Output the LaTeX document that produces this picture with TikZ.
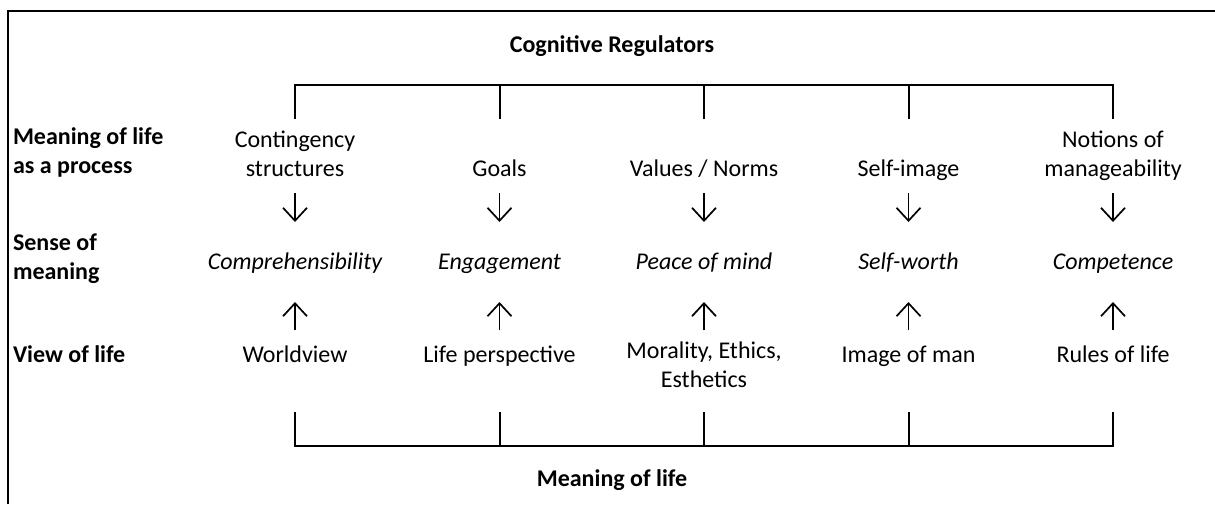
\documentclass[tikz,border=0pt]{standalone}
\usepackage{fontspec}
\setmainfont{Carlito}
\usetikzlibrary{arrows.meta,positioning,calc}

\begin{document}
\begin{tikzpicture}[
    x=0.5pt, y=-0.5pt,
    txt/.style={inner sep=0pt, outer sep=0pt, align=center,
        font=\fontsize{12}{14.5}\selectfont,
        execute at begin node=\strut, execute at end node=\strut},
    rowlabel/.style={txt, align=left, font=\fontsize{12}{14.5}\selectfont\bfseries},
    heading/.style={txt, font=\fontsize{12}{14.5}\selectfont\bfseries},
    sense/.style={txt, font=\fontsize{12}{14.5}\selectfont\itshape},
    bracket/.style={line width=1pt},
    frame/.style={line width=1pt},
    down/.style={->, line width=0.85pt, shorten <=4.15pt, shorten >=13.35pt},
    up/.style={->, line width=0.85pt, shorten <=5.85pt, shorten >=12.15pt},
    >={Straight Barb[length=6.5pt,width=12pt]}
]
    \useasboundingbox (0,0) rectangle (1215,504);
    \draw[frame] (8,504) |- (1215,11);

    \node[heading, anchor=base] (cogreg) at (612,52) {Cognitive Regulators};
    \node[heading, anchor=base] (mol) at (612,486) {Meaning of life};

    \node[rowlabel, anchor=north west] (lproc) at (13,127.7) {Meaning of life\\as a process};
    \node[rowlabel, anchor=north west] (lsense) at (13,233.7) {Sense of\\meaning};
    \node[rowlabel, anchor=north west] (lview) at (13,341.7) {View of life};

    \node[txt, anchor=south] (p1) at (295,184.7) {Contingency\\structures};
    \node[txt, anchor=south] (p2) at (499.5,184.7) {Goals};
    \node[txt, anchor=south] (p3) at (704,184.7) {Values / Norms};
    \node[txt, anchor=south] (p4) at (908.5,184.7) {Self-image};
    \node[txt, anchor=south] (p5) at (1113,184.7) {Notions of\\manageability};

    \node[sense, anchor=south] (s1) at (295,277.7) {Comprehensibility};
    \node[sense, anchor=south] (s2) at (499.5,277.7) {Engagement};
    \node[sense, anchor=south] (s3) at (704,277.7) {Peace of mind};
    \node[sense, anchor=south] (s4) at (908.5,277.7) {Self-worth};
    \node[sense, anchor=south] (s5) at (1113,277.7) {Competence};

    \node[txt, anchor=north] (v1) at (295,341.7) {Worldview};
    \node[txt, anchor=north] (v2) at (499.5,341.7) {Life perspective};
    \node[txt, anchor=north] (v3) at (704,341.7) {Morality, Ethics,\\Esthetics};
    \node[txt, anchor=north] (v4) at (908.5,341.7) {Image of man};
    \node[txt, anchor=north] (v5) at (1113,341.7) {Rules of life};

    \draw[down] (p1.south) -- (s1.north);
    \draw[down] (p2.south) -- (s2.north);
    \draw[down] (p3.south) -- (s3.north);
    \draw[down] (p4.south) -- (s4.north);
    \draw[down] (p5.south) -- (s5.north);

    \draw[up] (v1.north) -- (s1.south);
    \draw[up] (v2.north) -- (s2.south);
    \draw[up] (v3.north) -- (s3.south);
    \draw[up] (v4.north) -- (s4.south);
    \draw[up] (v5.north) -- (s5.south);

    \coordinate (topbar) at (0,85);
    \coordinate (top1) at (295,119);
    \coordinate (top2) at (499.5,119);
    \coordinate (top3) at (704,119);
    \coordinate (top4) at (908.5,119);
    \coordinate (top5) at (1113,119);
    \draw[bracket] (top1) -- (top1 |- topbar) -- (top5 |- topbar) -- (top5);
    \foreach \i in {2,3,4} \draw[bracket] (top\i) -- (top\i |- topbar);

    \coordinate (botbar) at (0,446);
    \coordinate (bot1) at (295,412);
    \coordinate (bot2) at (499.5,412);
    \coordinate (bot3) at (704,412);
    \coordinate (bot4) at (908.5,412);
    \coordinate (bot5) at (1113,412);
    \draw[bracket] (bot1) -- (bot1 |- botbar) -- (bot5 |- botbar) -- (bot5);
    \foreach \i in {2,3,4} \draw[bracket] (bot\i) -- (bot\i |- botbar);
\end{tikzpicture}
\end{document}
